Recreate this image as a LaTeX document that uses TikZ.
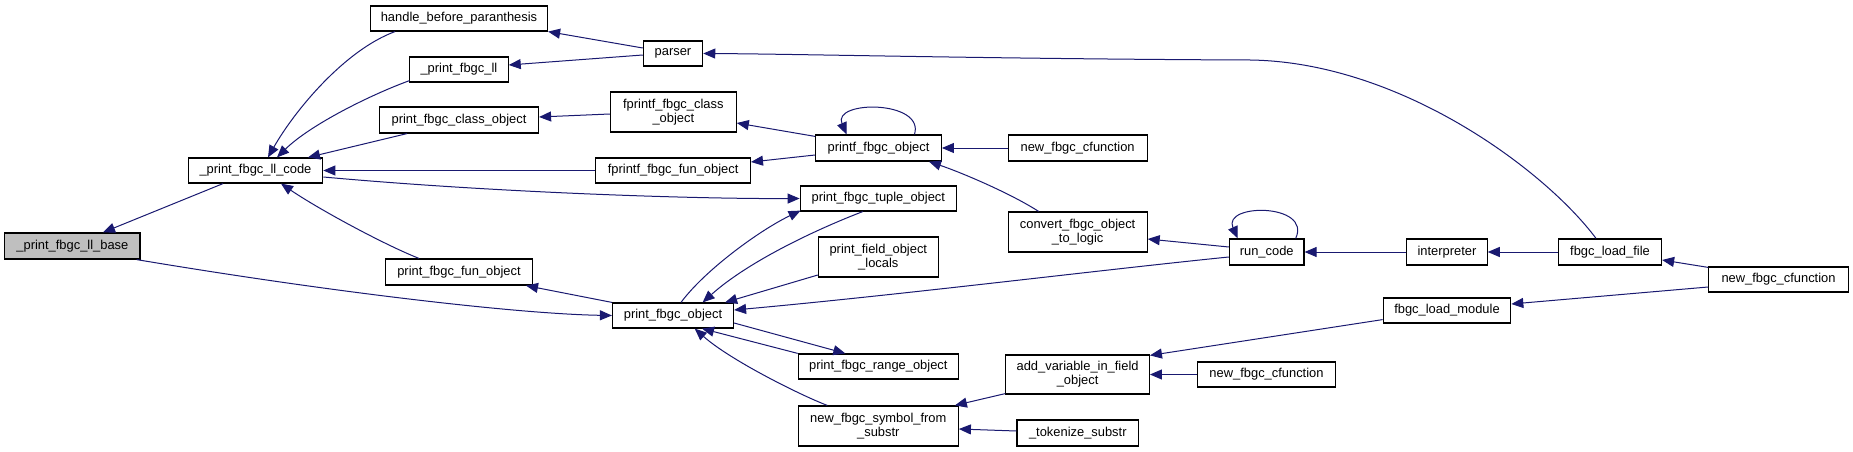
\documentclass[tikz,border=0pt]{standalone}
\usepackage{fontspec}
\setmainfont{Liberation Sans}
\usetikzlibrary{arrows.meta,calc}
\definecolor{edgecol}{HTML}{191970}
\definecolor{basefill}{HTML}{BFBFBF}
\begin{document}
\begin{tikzpicture}[x=1pt,y=-1pt,
  nbox/.style={draw=black,line width=1.2pt,fill=white,inner sep=0pt,align=center,
    font=\fontsize{12.9}{14.3}\selectfont},
  edge/.style={draw=edgecol,line width=1.0pt,-{Triangle[length=12pt,width=10pt]},
    shorten >=0pt},
]
\useasboundingbox (0,0) rectangle (1853,452);
\fill[white] (0,0) rectangle (1853,452);
% nodes
\node[nbox,fill=basefill,minimum width=135.3pt,minimum height=26pt] (base) at (72.4,246) {\_print\_fbgc\_ll\_base};
\node[nbox,minimum width=134.5pt,minimum height=25pt] (llcode) at (255.5,170.5) {\_print\_fbgc\_ll\_code};
\node[nbox,minimum width=177pt,minimum height=25pt] (handle) at (459,18.5) {handle\_before\_paranthesis};
\node[nbox,minimum width=98.5pt,minimum height=25pt] (ll) at (458.9,69.5) {\_print\_fbgc\_ll};
\node[nbox,minimum width=159pt,minimum height=26pt] (classobj) at (459,120) {print\_fbgc\_class\_object};
\node[nbox,minimum width=147pt,minimum height=26pt] (funobj) at (459,272) {print\_fbgc\_fun\_object};
\node[nbox,minimum width=59.3pt,minimum height=25pt] (parser) at (673,53.5) {parser};
\node[nbox,minimum width=125.8pt,minimum height=40pt] (fclass) at (673.3,112) {fprintf\_fbgc\_class\\\_object};
\node[nbox,minimum width=154.6pt,minimum height=25pt] (ffun) at (673.1,170.5) {fprintf\_fbgc\_fun\_object};
\node[nbox,minimum width=121pt,minimum height=25pt] (pobj) at (673,315.5) {print\_fbgc\_object};
\node[nbox,minimum width=125.7pt,minimum height=26pt] (printf) at (878.5,148) {printf\_fbgc\_object};
\node[nbox,minimum width=156.2pt,minimum height=25pt] (tuple) at (878.3,198.5) {print\_fbgc\_tuple\_object};
\node[nbox,minimum width=119.8pt,minimum height=40pt] (locals) at (878.3,257) {print\_field\_object\\\_locals};
\node[nbox,minimum width=160pt,minimum height=25pt] (range) at (878.3,366.5) {print\_fbgc\_range\_object};
\node[nbox,minimum width=160pt,minimum height=40pt] (symbol) at (878.3,426) {new\_fbgc\_symbol\_from\\\_substr};
\node[nbox,minimum width=139pt,minimum height=26pt] (cfa) at (1077.6,148) {new\_fbgc\_cfunction};
\node[nbox,minimum width=139pt,minimum height=40pt] (convert) at (1077.6,232) {convert\_fbgc\_object\\\_to\_logic};
\node[nbox,minimum width=143.5pt,minimum height=39pt] (addvar) at (1077.6,374.5) {add\_variable\_in\_field\\\_object};
\node[nbox,minimum width=121.8pt,minimum height=26pt] (tokenize) at (1077.8,433) {\_tokenize\_substr};
\node[nbox,minimum width=74.6pt,minimum height=26pt] (runcode) at (1266.7,252) {run\_code};
\node[nbox,minimum width=138.6pt,minimum height=25pt] (cfb) at (1266.5,374.5) {new\_fbgc\_cfunction};
\node[nbox,minimum width=80.3pt,minimum height=26pt] (interp) at (1447,252) {interpreter};
\node[nbox,minimum width=127.5pt,minimum height=25pt] (loadmod) at (1447,310.5) {fbgc\_load\_module};
\node[nbox,minimum width=103pt,minimum height=26pt] (loadfile) at (1610,252) {fbgc\_load\_file};
\node[nbox,minimum width=139.4pt,minimum height=25pt] (cfc) at (1778.5,279.5) {new\_fbgc\_cfunction};
% edges
\draw[edge] ($(llcode.south)+(-32.5,0)$) -- ($(base.north)+(30.6,0)$);
\draw[edge] ($(handle.south)+(-64,0)$) .. controls (345,50) and (295,110) .. ($(llcode.north)+(12.5,0)$);
\draw[edge] ($(ll.south west)+(0.5,-2)$) .. controls (370,95) and (310,125) .. ($(llcode.north)+(21.5,0)$);
\draw[edge] ($(classobj.south)+(-52,0)$) -- ($(llcode.north)+(52.5,0)$);
\draw[edge] (ffun.west) -- (llcode.east);
\draw[edge] ($(llcode.east)+(0,6.5)$) .. controls (500,193) and (700,199) .. (tuple.west);
\draw[edge] ($(funobj.north)+(-40,0)$) .. controls (385,245) and (320,210) .. ($(llcode.south)+(25.5,0)$);
\draw[edge] (pobj.north west) -- ($(funobj.south)+(67,0)$);
\draw[edge] ($(base.south east)+(-4,0)$) .. controls (336,293) and (520,314) .. (pobj.west);
\draw[edge] ($(parser.west)+(0,-5.5)$) -- (handle.south east);
\draw[edge] ($(parser.west)+(0,1.5)$) -- ($(ll.east)+(0,-4.5)$);
\draw[edge] ($(loadfile.north)+(-14,0)$) .. controls (1545,170) and (1400,62) .. (1250,60) .. controls (1000,59) and (800,54) .. (parser.east);
\draw[edge] ($(fclass.west)+(0,2)$) -- ($(classobj.east)+(0,-3)$);
\draw[edge] ($(printf.north west)+(0,2)$) -- ($(fclass.east)+(0,11)$);
\draw[edge] ($(printf.west)+(0,7)$) -- ($(ffun.east)+(0,-8.5)$);
\draw[edge] ($(printf.north)+(36,0)$) .. controls (925,100) and (832,100) .. ($(printf.north)+(-32,0)$);
\draw[edge] (cfa.west) -- (printf.east);
\draw[edge] ($(convert.north)+(-39,0)$) .. controls (1010,193) and (960,172) .. ($(printf.south east)+(-13,0)$);
\draw[edge] ($(runcode.west)+(0,-5)$) -- ($(convert.east)+(0,7)$);
\draw[edge] ($(runcode.west)+(0,5)$) .. controls (1100,270) and (900,295) .. ($(pobj.east)+(0,-5.5)$);
\draw[edge] ($(pobj.north)+(8,0)$) .. controls (705,270) and (760,230) .. ($(tuple.south west)+(1,-1)$);
\draw[edge] ($(tuple.south)+(-15.6,0)$) .. controls (820,228) and (750,260) .. ($(pobj.north)+(29.6,0)$);
\draw[edge] ($(locals.west)+(0,18)$) -- ($(pobj.north east)+(-9,0)$);
\draw[edge] ($(pobj.east)+(0,7.5)$) -- ($(range.north)+(-33,0)$);
\draw[edge] (range.north west) -- ($(pobj.south)+(29,0)$);
\draw[edge] ($(symbol.north)+(-51,0)$) .. controls (800,395) and (730,360) .. ($(pobj.south)+(21.7,0)$);
\draw[edge] ($(addvar.south west)+(0,-1)$) -- ($(symbol.north east)+(-4,0)$);
\draw[edge] ($(tokenize.west)+(0,-2)$) -- ($(symbol.east)+(0,3)$);
\draw[edge] ($(runcode.north)+(29,0)$) .. controls (1312,203) and (1222,203) .. ($(runcode.north)+(-29,0)$);
\draw[edge] (interp.west) -- (runcode.east);
\draw[edge] (loadfile.west) -- (interp.east);
\draw[edge] ($(cfc.north west)+(0,1)$) -- ($(loadfile.east)+(0,8)$);
\draw[edge] ($(cfc.west)+(0,7.5)$) -- ($(loadmod.east)+(0,-6.5)$);
\draw[edge] ($(loadmod.south west)+(0,-4)$) -- ($(addvar.north east)+(0,1)$);
\draw[edge] (cfb.west) -- (addvar.east);
\end{tikzpicture}
\end{document}
